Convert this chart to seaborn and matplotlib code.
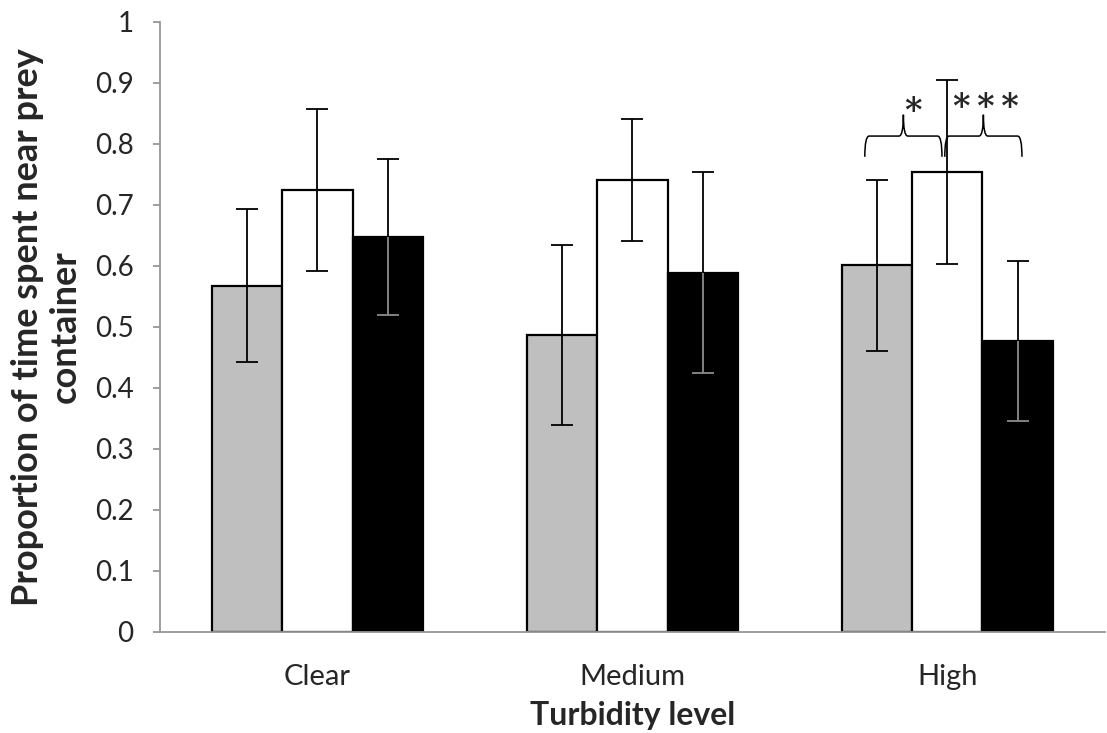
import numpy as np
import pandas as pd
import seaborn as sns
import matplotlib.pyplot as plt
from matplotlib.path import Path
from matplotlib.patches import PathPatch

turbidity = ['Clear', 'Medium', 'High']
groups = ['A', 'B', 'C']
colors = ['#bfbfbf', '#ffffff', '#000000']

means = {
    'A': [0.568, 0.487, 0.601],
    'B': [0.725, 0.741, 0.754],
    'C': [0.647, 0.589, 0.477],
}
errors = {
    'A': [0.126, 0.147, 0.140],
    'B': [0.133, 0.100, 0.151],
    'C': [0.128, 0.165, 0.131],
}

yticks = [0, 0.1, 0.2, 0.3, 0.4, 0.5, 0.6, 0.7, 0.8, 0.9, 1]
ytick_labels = ['0', '0.1', '0.2', '0.3', '0.4', '0.5', '0.6', '0.7', '0.8', '0.9', '1']

rows = []
for g in groups:
    for i, t in enumerate(turbidity):
        rows.append({'turbidity': t, 'group': g, 'mean': means[g][i], 'err': errors[g][i]})
df = pd.DataFrame(rows)

sns.set_style('white')
plt.rcParams['font.family'] = ['Lato', 'DejaVu Sans']

fig = plt.figure(figsize=(11.07, 7.33), dpi=100)
ax = fig.add_axes([0.1445, 0.1378, 0.8535, 0.8322])

sns.barplot(
    data=df, x='turbidity', y='mean', hue='group',
    order=turbidity, hue_order=groups, palette=colors,
    edgecolor='black', linewidth=1.6, width=0.67, gap=0,
    errorbar=None, legend=False, ax=ax,
)

grey = '#969696'
for g, container in zip(groups, ax.containers):
    xs = [bar.get_x() + bar.get_width() / 2 for bar in container]
    ax.errorbar(xs, means[g], yerr=errors[g], fmt='none', ecolor='black',
                elinewidth=1.3, capsize=8, capthick=1.3, zorder=3)
    if g == 'C':
        # inside the black bar the lower whisker shows up light
        _, caps, lines = ax.errorbar(xs, means[g], yerr=[errors[g], [0] * 3],
                                     fmt='none', ecolor='#8c8c8c', elinewidth=1.3,
                                     capsize=8, capthick=1.3, zorder=4)
        for c in caps:
            c.set_color('#e6e6e6')
        caps[-1].set_visible(False)


def brace(ax, x0, x1, yb, ym, yt):
    xc = (x0 + x1) / 2
    r = 0.014
    verts = [
        (x0, yb), (x0, ym), (x0 + r, ym),
        (xc - r, ym), (xc, ym), (xc, yt),
        (xc, yt), (xc, ym), (xc + r, ym),
        (x1 - r, ym), (x1, ym), (x1, yb),
    ]
    codes = [Path.MOVETO, Path.CURVE3, Path.CURVE3,
             Path.LINETO, Path.CURVE3, Path.CURVE3,
             Path.MOVETO, Path.CURVE3, Path.CURVE3,
             Path.LINETO, Path.CURVE3, Path.CURVE3]
    ax.add_patch(PathPatch(Path(verts, codes), fill=False, lw=1.1,
                           edgecolor='black', zorder=5))


brace(ax, 1.738, 1.983, 0.779, 0.813, 0.848)
brace(ax, 1.992, 2.237, 0.779, 0.813, 0.848)
ax.text(1.89, 0.826, '*', ha='center', va='bottom', fontsize=24,
        family='DejaVu Serif', fontweight='bold')
ax.text(2.122, 0.832, '*\u2009*\u2009*', ha='center', va='bottom', fontsize=24,
        family='DejaVu Serif', fontweight='bold')

ax.set_ylim(0, 1)
ax.set_xlim(-0.5, 2.5)
ax.set_yticks(yticks)
ax.set_yticklabels(ytick_labels)
ax.set_xticks([-0.5, 0.5, 1.5, 2.5], minor=True)

for side in ['top', 'right']:
    ax.spines[side].set_visible(False)
for side in ['left', 'bottom']:
    ax.spines[side].set_color(grey)
    ax.spines[side].set_linewidth(1.3)

ax.tick_params(axis='x', which='major', length=0, labelsize=21, pad=23)
ax.tick_params(axis='x', which='minor', length=7, color=grey, width=1.3, direction='out')
ax.tick_params(axis='y', length=5, color=grey, width=1.3, direction='out',
               left=True, labelsize=20, pad=14)

ax.set_xlabel('Turbidity level', fontsize=23, fontweight='bold', labelpad=8)
ax.set_ylabel('Proportion of time spent near prey\ncontainer', fontsize=26,
              fontweight='bold', linespacing=1.15)
ax.yaxis.set_label_coords(-0.083, 0.5)

fig.savefig('out.png', dpi=100)
